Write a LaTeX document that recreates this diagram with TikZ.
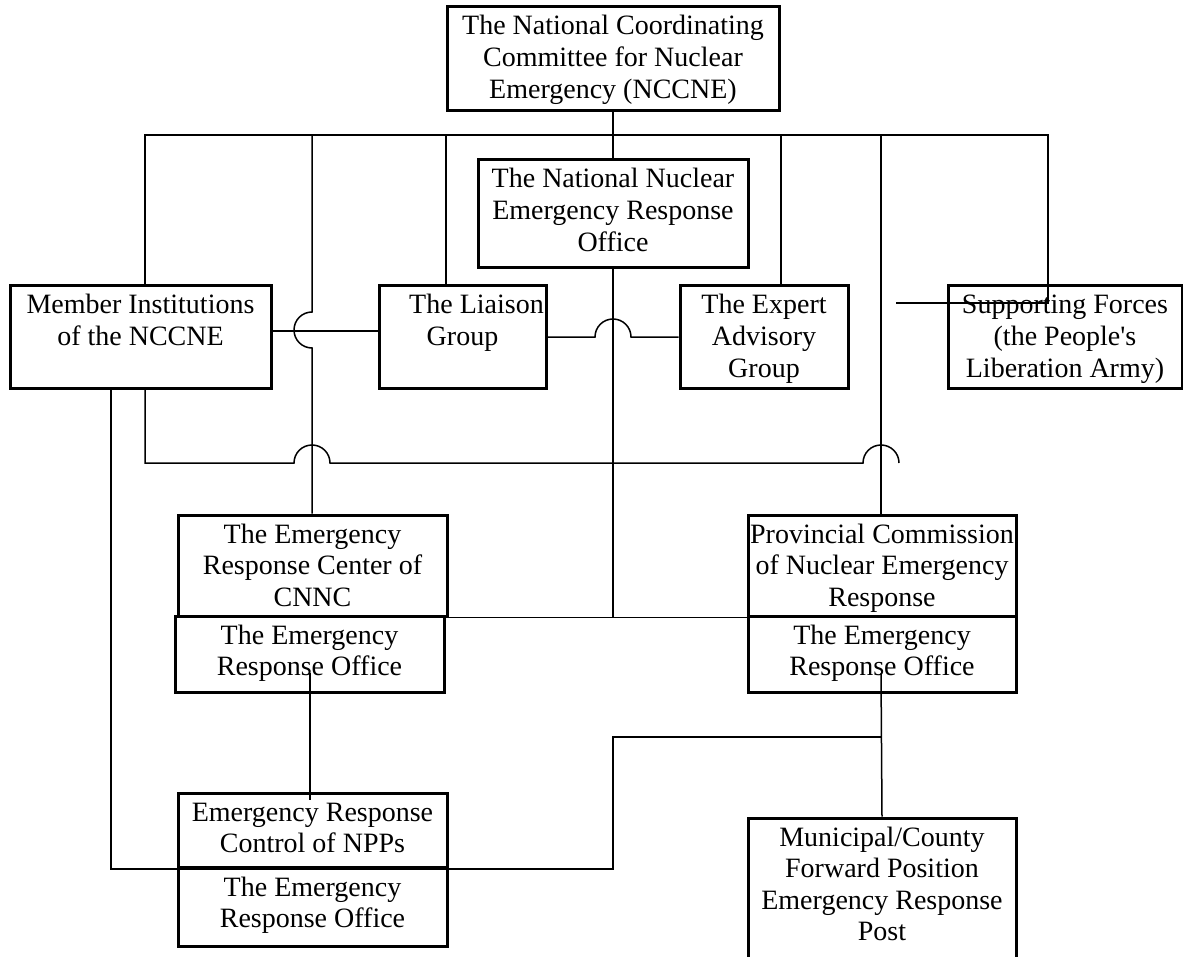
\documentclass[tikz,border=0pt]{standalone}
\usepackage{fontspec}
\setmainfont{Liberation Serif}
\newlength\pxu \setlength\pxu{0.5pt}
\newcommand\bt[3]{\parbox[c][#2\pxu][t]{#1\pxu}{\centering\rule{0pt}{14pt}#3}}
\begin{document}
\begin{tikzpicture}[x=0.5pt,y=-0.5pt,
  box/.style={draw, line width=1.5pt, inner sep=0pt, font=\fontsize{14pt}{15.8pt}\selectfont},
  conn/.style={line width=0.75pt}]
\useasboundingbox (0,0) rectangle (1183,957);
\clip (0,0) rectangle (1183,957);
% boxes
\node[box] (nccne) at (613,59) {\bt{332}{104}{The National Coordinating\\Committee for Nuclear\\Emergency (NCCNE)}};
\node[box] (nnero) at (613,214) {\bt{270}{108}{The National Nuclear\\Emergency Response\\Office}};
\node[box] (member) at (140.5,337) {\bt{261}{102}{Member Institutions\\of the NCCNE}};
\node[box] (liaison) at (462.5,337) {\bt{167}{102}{\makebox[\linewidth]{\hspace*{28\pxu}The Liaison}\\Group}};
\node[box] (expert) at (764,337) {\bt{168}{102}{The Expert\\Advisory\\Group}};
\node[box] (supp) at (1065,337) {\bt{234}{102}{Supporting Forces\\(the People\textquotesingle s\\Liberation Army)}};
\node[box] (cnnc) at (312.5,565.5) {\bt{269}{101}{The Emergency\\Response Center of\\CNNC}};
\node[box] (eroA) at (309.5,654) {\bt{269}{76}{The Emergency\\Response Office}};
\node[box] (prov) at (882,565.5) {\bt{268}{101}{Provincial Commission\\of Nuclear Emergency\\Response}};
\node[box] (eroB) at (882,654) {\bt{268}{76}{The Emergency\\Response Office}};
\node[box] (ernpp) at (312.5,830) {\bt{269}{74}{Emergency Response\\Control of NPPs}};
\node[box] (eroC) at (312.5,907) {\bt{269}{78}{The Emergency\\Response Office}};
\node[box] (mun) at (882,899) {\bt{268}{162}{Municipal/County\\Forward Position\\Emergency Response\\Post}};
% coordinates
\coordinate (bL) at (145,135);
\coordinate (bR) at (1048,135);
\coordinate (v1) at (312,135);
\coordinate (v2) at (446,135);
\coordinate (v3) at (781,135);
\coordinate (v4) at (881,135);
\coordinate (sJ) at (1048,303);
\coordinate (sE) at (896,303);
\coordinate (ml) at (300,331);
\coordinate (a1) at (310,673);
\coordinate (a2) at (310,800);
\coordinate (lb) at (111,869);
\coordinate (rb) at (613,869);
\coordinate (rc) at (613,737);
\coordinate (rd) at (881,737);
\coordinate (re) at (881,673);
% connectors
\draw[conn] (nccne.south) -- (nnero.north);
\draw[conn] (bL |- member.north) -- (bL) -- (bR) -- (sJ) -- (sE);
\draw[conn] (v1) -- ++(0,177) arc[start angle=-90,end angle=-270,radius=18] -- (v1 |- cnnc.north);
\draw[conn] (v2) -- (v2 |- liaison.north);
\draw[conn] (v3) -- (v3 |- expert.north);
\draw[conn] (v4) -- (v4 |- prov.north);
\draw[conn] (member.east |- ml) -- (liaison.west |- ml);
\draw[conn] (liaison.east) -- (595,337) arc[start angle=180,end angle=360,radius=18] -- (expert.west);
\draw[conn] (bL |- member.south) -- (145,463) -- (294,463) arc[start angle=180,end angle=360,radius=18] -- (863,463) arc[start angle=180,end angle=360,radius=18];
\draw[conn] (nnero.south) -- (nnero.south |- cnnc.south east);
\draw[conn] (cnnc.south east) -- (prov.south west);
\draw[conn] (a1) -- (a2);
\draw[conn] (lb |- member.south) -- (lb) -- (ernpp.west |- lb);
\draw[conn] (ernpp.east |- lb) -- (rb) -- (rc) -- (rd);
\draw[conn] (re) -- (mun.north);
\end{tikzpicture}
\end{document}
